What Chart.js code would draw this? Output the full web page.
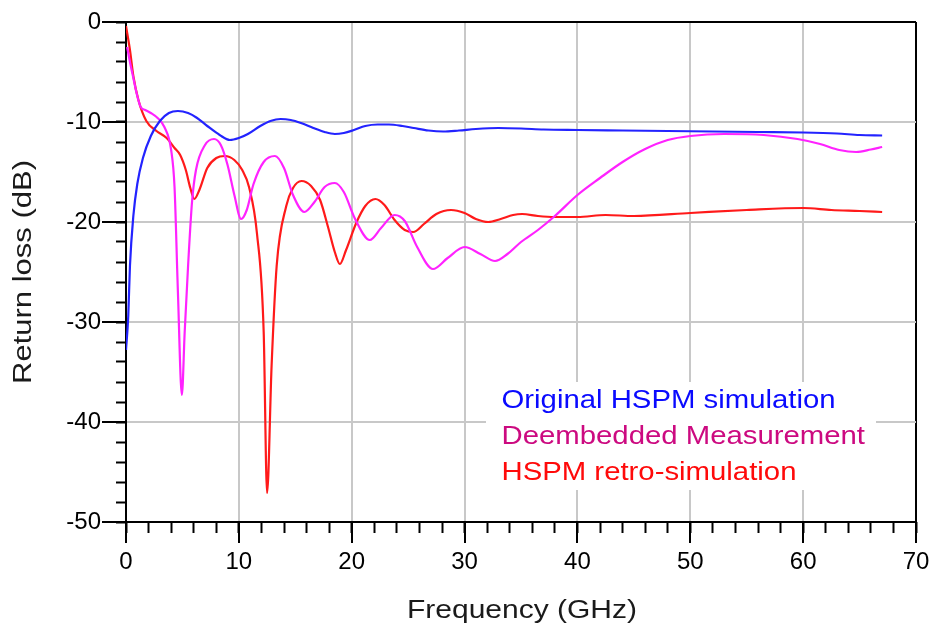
<!DOCTYPE html>
<html>
<head>
<meta charset="utf-8">
<title>Return loss</title>
<script src="https://cdn.jsdelivr.net/npm/chart.js@4.4.1/dist/chart.umd.min.js"></script>
<style>
  html, body { margin: 0; padding: 0; background: #fff; }
  #wrap { width: 930px; height: 627px; }
</style>
</head>
<body>
<div id="wrap"><canvas id="chart" width="930" height="627"></canvas></div>
<script>
// axis ticks
const freqTicks = [0, 10, 20, 30, 40, 50, 60, 70];
const lossTicks = [-50, -40, -30, -20, -10, 0];

const seriesNames = ['Original HSPM simulation', 'Deembedded Measurement', 'HSPM retro-simulation'];

// Original HSPM simulation (blue)
const origFreq = [0, 0.2, 0.35, 0.65, 1.0, 1.5, 2.2, 3.0, 3.8, 4.6, 5.5, 6.3, 7.2, 8.3, 9.2, 10.0, 10.8, 11.9, 12.8, 13.7,
  14.6, 15.5, 16.6, 17.6, 18.5, 19.3, 20.2, 21.2, 22.3, 23.3, 24.5, 25.5, 26.8, 28.1, 29.5, 31, 33, 35, 37, 40,
  44, 48, 52, 56, 60, 63, 65, 67];
const origLoss = [-32.8, -29.4, -24.4, -19.4, -16.2, -13.6, -11.4, -9.9, -9.1, -8.9, -9.1, -9.6, -10.4, -11.3, -11.8, -11.6, -11.2, -10.4, -9.9, -9.7,
  -9.8, -10.1, -10.6, -11.0, -11.2, -11.1, -10.8, -10.4, -10.25, -10.25, -10.4, -10.6, -10.85, -10.95, -10.85, -10.7, -10.6, -10.65, -10.75, -10.8,
  -10.85, -10.9, -10.95, -11.0, -11.05, -11.15, -11.3, -11.35];

// Deembedded Measurement (magenta)
const measFreq = [0.1, 0.35, 0.65, 1.0, 1.3, 1.7, 2.2, 2.8, 3.4, 4.0, 4.3, 4.6, 4.95, 5.2, 5.5, 5.85, 6.2, 7.0, 7.8, 8.4,
  9.0, 9.6, 10.2, 10.7, 11.3, 12.2, 13.2, 14.0, 14.8, 15.8, 16.7, 17.6, 18.5, 19.3, 20.3, 21.6, 22.6, 23.8, 24.7, 25.8,
  27.2, 28.5, 30.0, 31.4, 32.7, 33.8, 35.0, 36.5, 38.0, 40.0, 42, 44, 46, 48, 50, 53, 56.5, 59.5, 61.5, 63.2,
  64.7, 66.0, 67.0];
const measLoss = [-2.5, -4.0, -5.6, -7.4, -8.5, -8.8, -9.1, -9.6, -10.5, -12.8, -16.5, -27.0, -37.3, -31.0, -24.4, -18.0, -14.8, -12.3, -11.7, -12.3,
  -14.3, -17.3, -19.7, -18.8, -16.2, -14.0, -13.4, -14.6, -17.3, -19.0, -18.0, -16.5, -16.1, -17.0, -19.7, -21.8, -20.6, -19.3, -19.9, -22.5,
  -24.7, -23.6, -22.5, -23.2, -23.9, -23.2, -22.0, -20.8, -19.4, -17.3, -15.6, -14.0, -12.7, -11.8, -11.4, -11.2, -11.3, -11.7, -12.2, -12.8,
  -13.0, -12.75, -12.5];

// HSPM retro-simulation (red)
const retroFreq = [0, 0.35, 0.65, 1.1, 1.8, 2.7, 3.6, 4.3, 4.8, 5.3, 5.7, 6.05, 6.5, 7.2, 8.0, 8.75, 9.6, 10.3, 10.9, 11.6,
  12.2, 12.5, 12.9, 13.35, 14.2, 14.8, 15.55, 16.4, 17.2, 17.9, 18.5, 18.95, 19.5, 20.4, 21.2, 22.1, 22.9, 23.8, 24.7, 25.45,
  26.4, 27.5, 28.8, 30.0, 31.0, 32.1, 33.2, 34.3, 35.1, 36.5, 38, 40, 42.5, 45, 50, 55, 60, 62.5, 65, 67];
const retroLoss = [-0.4, -2.8, -5.4, -7.8, -9.9, -10.9, -11.6, -12.6, -13.3, -14.8, -16.6, -17.7, -16.8, -14.6, -13.6, -13.4, -13.8, -14.8, -16.5, -21.1,
  -31.0, -47.1, -34.4, -24.4, -18.4, -16.6, -15.9, -16.4, -17.8, -20.5, -23.0, -24.2, -22.8, -20.1, -18.4, -17.7, -18.3, -19.8, -20.8, -21.0,
  -20.2, -19.2, -18.8, -19.1, -19.7, -20.0, -19.7, -19.3, -19.2, -19.4, -19.5, -19.5, -19.3, -19.4, -19.1, -18.8, -18.6, -18.8, -18.9, -19.0];

const FONT = "'Liberation Sans', Arial, Helvetica, sans-serif";

function toPoints(xs, ys) {
  return xs.map((x, i) => ({ x: x, y: ys[i] }));
}

function makeSeries(label, xs, ys, lineColor, textColor) {
  return {
    label: label,
    data: toPoints(xs, ys),
    borderColor: lineColor,
    legendColor: textColor,
    borderWidth: 2.2,
    pointRadius: 0,
    fill: false,
    cubicInterpolationMode: 'monotone'
  };
}

// titles and the text legend, stretched a bit like in the original picture
const textPlugin = {
  id: 'textPlugin',
  afterDraw(chart) {
    const ctx = chart.ctx;
    const area = chart.chartArea;

    ctx.save();
    ctx.fillStyle = '#1a1a1a';
    ctx.font = '25px ' + FONT;
    ctx.textBaseline = 'alphabetic';
    ctx.textAlign = 'center';

    // x title
    ctx.save();
    ctx.translate((area.left + area.right) / 2 + 1, 618);
    ctx.scale(1.2, 1);
    ctx.fillText('Frequency (GHz)', 0, 0);
    ctx.restore();

    // y title
    ctx.save();
    ctx.translate(30.5, (area.top + area.bottom) / 2);
    ctx.rotate(-Math.PI / 2);
    ctx.scale(1.24, 1);
    ctx.fillText('Return loss (dB)', 0, 0);
    ctx.restore();

    // legend: plain coloured text on white
    ctx.fillStyle = '#ffffff';
    ctx.fillRect(486, 382, 390, 108);
    ctx.textAlign = 'left';
    ctx.font = '25.5px ' + FONT;
    chart.data.datasets.forEach((ds, i) => {
      ctx.save();
      ctx.translate(501.5, 408 + i * 36);
      ctx.scale(1.15, 1);
      ctx.fillStyle = ds.legendColor;
      ctx.fillText(ds.label, 0, 0);
      ctx.restore();
    });
    ctx.restore();
  }
};

const ctx = document.getElementById('chart').getContext('2d');

new Chart(ctx, {
  type: 'line',
  data: {
    datasets: [
      makeSeries(seriesNames[0], origFreq, origLoss, '#2323ff', '#0a0aff'),
      makeSeries(seriesNames[1], measFreq, measLoss, '#ff22ff', '#cc0a80'),
      makeSeries(seriesNames[2], retroFreq, retroLoss, '#ff1a1a', '#ff0a0a')
    ]
  },
  plugins: [textPlugin],
  options: {
    responsive: false,
    devicePixelRatio: 1,
    animation: false,
    layout: { padding: { top: 22, right: 14, left: 0, bottom: 0 } },
    plugins: {
      legend: { display: false },
      tooltip: { enabled: false }
    },
    scales: {
      x: {
        type: 'linear',
        position: 'bottom',
        weight: 10,
        min: 0,
        max: 70,
        afterBuildTicks: (s) => { s.ticks = freqTicks.map(v => ({ value: v })); },
        afterFit: (s) => { s.height = 105; s.paddingLeft = 0; s.paddingRight = 0; },
        grid: {
          color: (c) => (c.tick && c.tick.value === 70 ? '#000' : '#c8c8c8'),
          lineWidth: 2,
          tickLength: 21,
          tickColor: '#000',
          tickWidth: 2
        },
        border: { color: '#000', width: 2 },
        ticks: { color: '#000', font: { family: FONT, size: 24 }, padding: 5, maxRotation: 0, autoSkip: false }
      },
      xMinor: {
        type: 'linear',
        position: 'bottom',
        weight: 0,
        min: 0,
        max: 70,
        afterFit: (s) => { s.height = 0; s.paddingLeft = 0; s.paddingRight = 0; },
        grid: { drawOnChartArea: false, tickLength: 11, tickColor: '#000', tickWidth: 2 },
        border: { display: false },
        ticks: { display: false, stepSize: 2 }
      },
      y: {
        type: 'linear',
        position: 'left',
        weight: 10,
        min: -50,
        max: 0,
        afterBuildTicks: (s) => { s.ticks = lossTicks.map(v => ({ value: v })); },
        afterFit: (s) => { s.width = 126; s.paddingTop = 0; s.paddingBottom = 0; },
        grid: {
          color: (c) => (c.tick && c.tick.value === 0 ? '#000' : '#c8c8c8'),
          lineWidth: 2,
          tickLength: 24,
          tickColor: '#000',
          tickWidth: 2
        },
        border: { color: '#000', width: 2 },
        ticks: { color: '#000', font: { family: FONT, size: 24 }, padding: 1, autoSkip: false }
      },
      yMinor: {
        type: 'linear',
        position: 'left',
        weight: 0,
        min: -50,
        max: 0,
        afterFit: (s) => { s.width = 0; s.paddingTop = 0; s.paddingBottom = 0; },
        grid: { drawOnChartArea: false, tickLength: 10, tickColor: '#000', tickWidth: 2 },
        border: { display: false },
        ticks: { display: false, stepSize: 2 }
      }
    }
  }
});
</script>
</body>
</html>
